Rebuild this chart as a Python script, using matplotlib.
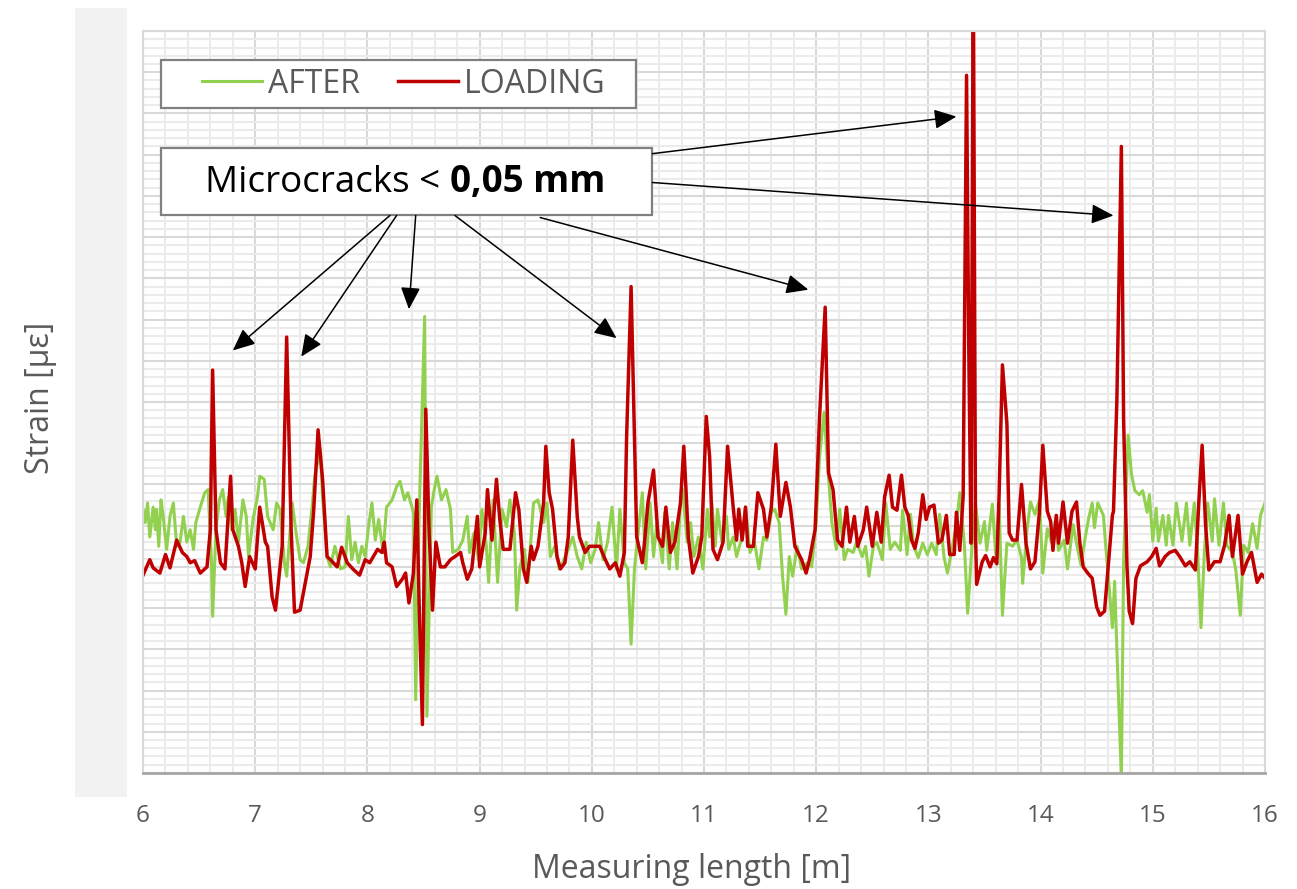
import matplotlib
matplotlib.use("Agg")
import matplotlib.pyplot as plt
from matplotlib.patches import Rectangle
from matplotlib.ticker import MultipleLocator, NullFormatter

plt.rcParams['font.family'] = ['Open Sans', 'DejaVu Sans']

# AFTER (green) - position [m], strain [µε]
pos_after = [6.00, 6.02, 6.04, 6.06, 6.09, 6.11, 6.12, 6.14, 6.16, 6.18, 6.21, 6.24, 6.27, 6.30, 6.33, 6.36,
             6.39, 6.42, 6.45, 6.47, 6.51, 6.55, 6.58, 6.61, 6.62, 6.65, 6.68, 6.71, 6.74, 6.76, 6.79, 6.82,
             6.85, 6.89, 6.92, 6.94, 6.98, 7.02, 7.04, 7.08, 7.11, 7.16, 7.19, 7.22, 7.26, 7.28, 7.33, 7.36,
             7.40, 7.43, 7.47, 7.51, 7.53, 7.58, 7.60, 7.64, 7.67, 7.71, 7.76, 7.80, 7.83, 7.86, 7.89, 7.92,
             7.95, 7.98, 8.01, 8.04, 8.07, 8.10, 8.14, 8.17, 8.22, 8.26, 8.29, 8.33, 8.36, 8.41, 8.43, 8.46,
             8.51, 8.53, 8.57, 8.59, 8.62, 8.66, 8.70, 8.74, 8.76, 8.81, 8.85, 8.89, 8.91, 8.95, 8.99, 9.02,
             9.06, 9.08, 9.12, 9.16, 9.20, 9.24, 9.27, 9.31, 9.33, 9.36, 9.40, 9.43, 9.48, 9.52, 9.57, 9.60,
             9.63, 9.67, 9.71, 9.74, 9.79, 9.83, 9.87, 9.91, 9.95, 9.99, 10.03, 10.06, 10.10, 10.14, 10.18, 10.22,
             10.25, 10.29, 10.32, 10.35, 10.38, 10.40, 10.45, 10.48, 10.52, 10.55, 10.58, 10.63, 10.65, 10.69, 10.72, 10.76,
             10.79, 10.81, 10.85, 10.88, 10.91, 10.95, 10.99, 11.03, 11.05, 11.07, 11.10, 11.12, 11.16, 11.20, 11.22, 11.26,
             11.29, 11.34, 11.37, 11.41, 11.45, 11.49, 11.53, 11.56, 11.60, 11.63, 11.67, 11.70, 11.73, 11.76, 11.79, 11.83,
             11.87, 11.92, 11.96, 12.00, 12.03, 12.07, 12.10, 12.14, 12.18, 12.21, 12.25, 12.28, 12.33, 12.36, 12.41, 12.44,
             12.47, 12.51, 12.54, 12.59, 12.62, 12.66, 12.70, 12.75, 12.77, 12.81, 12.84, 12.87, 12.91, 12.95, 12.99, 13.03,
             13.07, 13.10, 13.14, 13.17, 13.22, 13.25, 13.28, 13.32, 13.35, 13.39, 13.42, 13.46, 13.50, 13.52, 13.57, 13.60,
             13.63, 13.66, 13.70, 13.75, 13.79, 13.83, 13.84, 13.88, 13.91, 13.95, 13.99, 14.02, 14.06, 14.10, 14.13, 14.16,
             14.21, 14.24, 14.29, 14.32, 14.36, 14.40, 14.43, 14.46, 14.48, 14.51, 14.56, 14.58, 14.61, 14.64, 14.66, 14.68,
             14.72, 14.74, 14.78, 14.81, 14.84, 14.88, 14.91, 14.95, 14.97, 15.00, 15.03, 15.05, 15.09, 15.12, 15.14, 15.18,
             15.21, 15.26, 15.30, 15.33, 15.37, 15.40, 15.43, 15.46, 15.49, 15.53, 15.55, 15.59, 15.63, 15.66, 15.71, 15.74,
             15.78, 15.81, 15.85, 15.89, 15.93, 15.96, 16.00]
strain_after = [16, 3, 22, -11, 18, -4, 16, -20, 25, 9, -23, 9, 22, -20, -16, 9,
                -16, -4, -23, 3, 18, 32, 35, -36, -88, -4, 25, 35, 9, 28, -4, 16,
                -16, 25, 9, -30, 6, 28, 48, 45, 9, -4, 22, 16, -36, -49, 22, -4,
                -33, -36, -20, 22, 48, 74, 28, -30, -40, -20, -42, -40, 9, -33, -16, -36,
                -20, -30, -1, 22, -14, 6, -26, 18, 25, 38, 43, 25, 32, 13, -169, 6,
                203, -185, 18, 32, 48, 25, 35, 16, -26, -23, -14, 9, -26, -7, -33, 16,
                -20, -55, 25, -55, 16, -1, 25, -7, -82, -40, -23, -55, 22, 25, 3, 22,
                -30, -20, -42, -36, -23, -11, -30, -42, -16, -36, -23, 3, -33, -16, 18, -42,
                16, -36, -42, -115, -42, -20, 32, -42, 22, -30, 3, -36, 13, -42, 3, -42,
                22, 35, -16, 3, -30, -11, -42, 16, -11, 22, -20, 16, -16, 9, -23, -11,
                -30, -11, 18, -26, -16, -42, -11, -14, 13, 16, 3, -49, -86, -30, -49, -20,
                -42, -36, -40, 3, 67, 110, 61, 3, -23, 16, -33, -23, -26, -16, -30, -20,
                -49, -20, -16, -33, 22, -23, -16, -24, 15, -28, 11, -20, -31, -17, -28, -17,
                -28, 11, -31, -46, -17, 1, 32, -17, -85, -17, 21, -17, 4, -24, 21, -28,
                21, -87, -17, -20, -14, -31, -56, -3, 23, 11, 25, -46, -3, -17, 4, -24,
                -14, -42, 1, -17, -38, -10, 8, 22, -2, 22, 10, -19, -58, -99, -54, -120,
                -245, -35, 88, 50, 34, 30, 34, 13, 30, -15, 17, -15, 10, -19, 10, -19,
                22, -15, 22, -19, 22, -26, -99, -26, 22, -15, 26, -19, 22, -19, -26, -43,
                -87, -19, -26, 2, -22, 10, 22]

# LOADING (red) - position [m], strain [µε]
pos_loading = [6.00, 6.06, 6.09, 6.15, 6.20, 6.24, 6.30, 6.35, 6.39, 6.42, 6.46, 6.51, 6.57, 6.60, 6.62, 6.65,
               6.69, 6.73, 6.78, 6.80, 6.85, 6.88, 6.91, 6.95, 7.00, 7.04, 7.09, 7.11, 7.15, 7.18, 7.20, 7.24,
               7.28, 7.32, 7.35, 7.40, 7.44, 7.49, 7.52, 7.56, 7.60, 7.64, 7.67, 7.73, 7.77, 7.82, 7.87, 7.93,
               7.98, 8.02, 8.09, 8.13, 8.15, 8.17, 8.22, 8.26, 8.31, 8.34, 8.37, 8.41, 8.44, 8.46, 8.49, 8.52,
               8.55, 8.58, 8.61, 8.65, 8.69, 8.74, 8.78, 8.83, 8.85, 8.89, 8.93, 8.98, 9.00, 9.05, 9.07, 9.11,
               9.15, 9.18, 9.21, 9.27, 9.32, 9.35, 9.39, 9.42, 9.46, 9.48, 9.52, 9.57, 9.59, 9.62, 9.65, 9.69,
               9.72, 9.76, 9.79, 9.83, 9.87, 9.89, 9.94, 9.98, 10.03, 10.07, 10.12, 10.16, 10.21, 10.25, 10.29, 10.31,
               10.35, 10.38, 10.40, 10.45, 10.47, 10.50, 10.55, 10.59, 10.63, 10.66, 10.70, 10.74, 10.79, 10.82, 10.86, 10.90,
               10.95, 10.98, 11.02, 11.05, 11.08, 11.12, 11.17, 11.21, 11.26, 11.29, 11.31, 11.34, 11.37, 11.39, 11.44, 11.48,
               11.53, 11.56, 11.60, 11.64, 11.68, 11.73, 11.77, 11.81, 11.87, 11.91, 11.94, 11.99, 12.03, 12.08, 12.11, 12.15,
               12.19, 12.23, 12.27, 12.30, 12.34, 12.37, 12.42, 12.45, 12.50, 12.54, 12.58, 12.61, 12.65, 12.68, 12.72, 12.76,
               12.79, 12.82, 12.85, 12.88, 12.91, 12.95, 12.98, 13.01, 13.05, 13.09, 13.12, 13.16, 13.19, 13.23, 13.25, 13.28,
               13.31, 13.34, 13.36, 13.38, 13.40, 13.42, 13.43, 13.48, 13.51, 13.55, 13.58, 13.61, 13.63, 13.66, 13.70, 13.72,
               13.75, 13.79, 13.83, 13.87, 13.91, 13.95, 13.99, 14.02, 14.06, 14.09, 14.11, 14.14, 14.16, 14.20, 14.24, 14.28,
               14.32, 14.35, 14.38, 14.42, 14.46, 14.50, 14.53, 14.57, 14.60, 14.64, 14.65, 14.68, 14.72, 14.74, 14.77, 14.79,
               14.82, 14.85, 14.89, 14.95, 14.99, 15.03, 15.06, 15.11, 15.15, 15.20, 15.24, 15.29, 15.33, 15.38, 15.41, 15.44,
               15.47, 15.50, 15.55, 15.60, 15.64, 15.68, 15.71, 15.76, 15.80, 15.84, 15.88, 15.93, 15.97, 16.00]
strain_loading = [-48, -33, -41, -46, -28, -41, -14, -26, -30, -36, -34, -46, -40, -4, 151, -4,
                  -36, -42, 48, -4, -20, -36, -59, -30, -42, 18, -16, -20, -69, -82, -62, -20,
                  183, -4, -84, -82, -59, -30, 13, 93, 45, -30, -33, -40, -21, -36, -42, -48,
                  -33, -36, -23, -26, -16, -36, -40, -59, -52, -46, -75, -46, 25, -72, -193, 113,
                  -7, -82, -16, -40, -40, -33, -30, -26, -36, -52, -42, 9, -40, -7, 35, -14,
                  45, 6, -23, -23, 32, 15, -42, -55, -20, -33, -20, 22, 77, 32, 16, -30,
                  -42, -36, -11, 83, 9, -11, -26, -20, -20, -20, -33, -42, -36, -49, -26, 86,
                  232, 86, -11, -36, -16, 22, 54, -11, -20, 18, -26, -16, 22, 77, -11, -46,
                  -30, -11, 106, 67, -23, -33, -16, 77, 18, -14, 16, -14, 18, -20, -20, 32,
                  16, -11, 18, 79, 9, 42, 18, -20, -33, -46, -33, -4, 106, 212, 51, 35,
                  -14, -20, 18, -16, 9, -20, -4, 18, -20, 13, -16, 28, 49, 18, 15, 49,
                  18, 10, -14, -22, -7, 30, 6, 18, 20, -17, -14, 10, -28, -28, 13, -24,
                  29, 437, 170, -17, 560, -7, -57, -35, -29, -40, -31, -37, 29, 156, 99, -7,
                  -14, -14, 40, -17, -42, -35, 14, 78, 14, 4, -24, 10, -17, 23, -17, 14,
                  23, -17, -40, -46, -51, -79, -87, -83, -43, 10, 14, 122, 368, 103, -39, -83,
                  -95, -51, -39, -35, -30, -22, -39, -30, -26, -24, -30, -39, -35, -43, 22, 78,
                  2, -43, -35, -35, -19, 10, -30, 10, -47, -35, -26, -55, -47, -51]

x_ticks = [6, 7, 8, 9, 10, 11, 12, 13, 14, 15, 16]

# callout arrows: (start on text box) -> (crack peak)
arrow_from = [(8.20, 301), (8.26, 301), (8.43, 301), (8.78, 301), (9.54, 299), (10.54, 361), (10.54, 333)]
arrow_to = [(6.80, 170), (7.41, 164), (8.37, 210), (10.22, 182), (11.93, 229), (13.25, 397), (14.65, 301)]

fig = plt.figure(figsize=(12.97, 8.89), dpi=100)
ax = fig.add_axes([0.1103, 0.1305, 0.8650, 0.8346])

# grey band behind the y label
fig.add_artist(Rectangle((0.0578, 0.1035), 0.0401, 0.8875, transform=fig.transFigure,
                         facecolor='#f2f2f2', edgecolor='none', zorder=0))

ax.plot(pos_after, strain_after, color='#92d050', lw=2.2, label='AFTER', solid_joinstyle='round')
ax.plot(pos_loading, strain_loading, color='#c00000', lw=2.5, label='LOADING', solid_joinstyle='round')

ax.set_xlim(6, 16)
ax.set_ylim(-240, 480)
ax.set_xticks(x_ticks)
ax.xaxis.set_minor_locator(MultipleLocator(0.2))
ax.yaxis.set_major_locator(MultipleLocator(40))
ax.yaxis.set_minor_locator(MultipleLocator(8))
ax.yaxis.set_major_formatter(NullFormatter())
ax.tick_params(which='both', length=0)
ax.tick_params(axis='x', labelsize=17.5, labelcolor='#595959', pad=22)
ax.grid(which='major', color='#d9d9d9', lw=1.5)
ax.grid(which='minor', color='#ebebeb', lw=1.5)
ax.set_axisbelow(True)
for side in ['top', 'right', 'left']:
    ax.spines[side].set_color('#d9d9d9')
    ax.spines[side].set_linewidth(1.5)
ax.spines['bottom'].set_color('#a6a6a6')
ax.spines['bottom'].set_linewidth(2)

ax.set_xlabel('Measuring length [m]', fontsize=23, color='#595959', va='center')
ax.xaxis.set_label_coords(0.4893, -0.1307)
ax.set_ylabel('Strain [µε]', fontsize=23, color='#595959', va='center')
ax.yaxis.set_label_coords(-0.0918, 0.5054)

# legend with its own frame
ax.add_patch(Rectangle((0.016, 0.896), 0.4234, 0.0647, transform=ax.transAxes,
                       facecolor='white', edgecolor='#808080', lw=1.6, zorder=4))
ax.legend(loc='center left', bbox_to_anchor=(0.0526, 0.9286), ncol=2, frameon=False,
          fontsize=23, handlelength=1.88, handletextpad=0.19, columnspacing=1.19,
          borderpad=0, borderaxespad=0, labelcolor='#595959')

# callout box
ax.add_patch(Rectangle((0.016, 0.752), 0.4377, 0.0903, transform=ax.transAxes,
                       facecolor='white', edgecolor='#808080', lw=1.6, zorder=4))
t1 = ax.text(0.0553, 0.795, 'Microcracks <', transform=ax.transAxes, fontsize=26.5,
             va='center', ha='left', color='black', zorder=6)
ax.annotate('0,05 mm', xy=(1, 0), xycoords=t1, xytext=(7, 0), textcoords='offset points',
            va='bottom', ha='left', fontsize=26.5, fontweight='bold', color='black', zorder=6)

for start, tip in zip(arrow_from, arrow_to):
    ax.annotate('', xy=tip, xytext=start,
                arrowprops=dict(arrowstyle='-|>,head_length=0.9,head_width=0.4', color='black',
                                lw=1.1, shrinkA=0, shrinkB=0, mutation_scale=15), zorder=6)

fig.savefig('out.png', dpi=100)
